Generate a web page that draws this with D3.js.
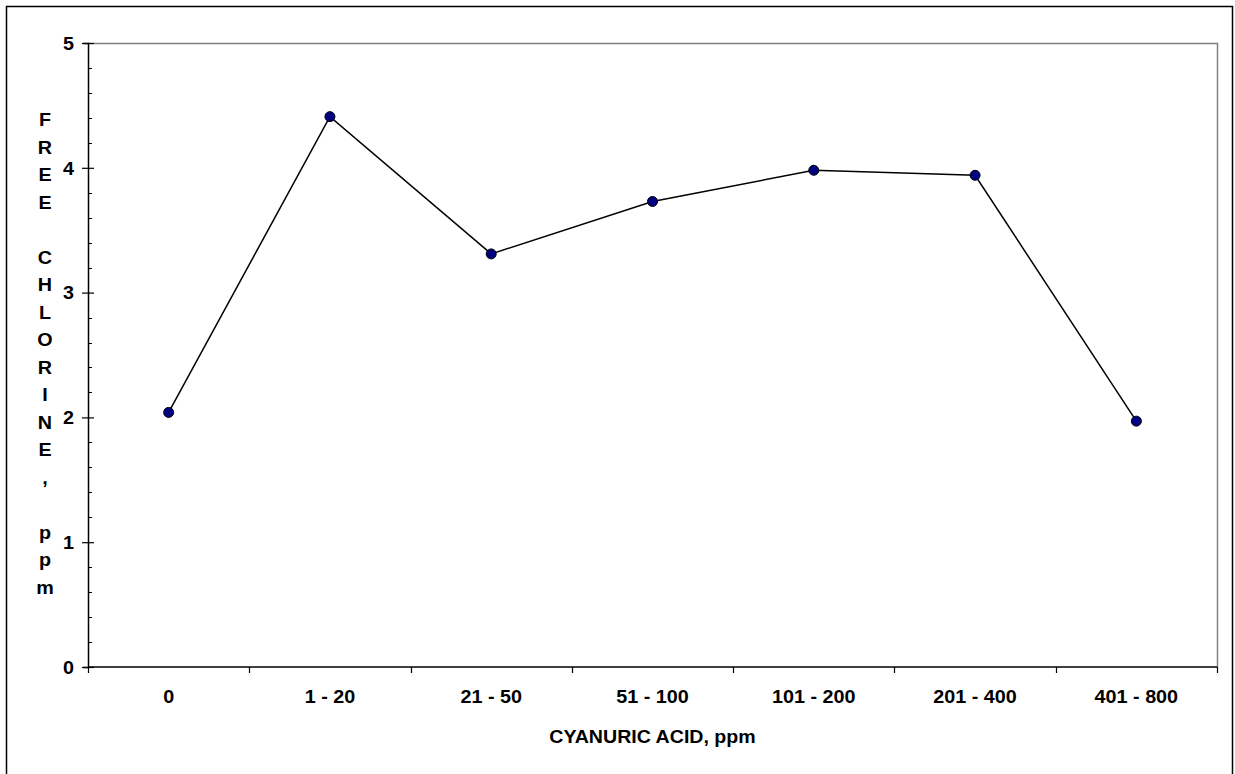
<!DOCTYPE html>
<html>
<head>
<meta charset="utf-8">
<script src="https://cdn.jsdelivr.net/npm/d3@7"></script>
<style>
  html, body { margin: 0; padding: 0; background: #fff; }
  svg { display: block; }
  text { font-family: "Liberation Sans", Arial, sans-serif; font-weight: bold; fill: #000; }
</style>
</head>
<body>
<svg id="chart" width="1235" height="774"></svg>
<script>
const categories = ["0", "1 - 20", "21 - 50", "51 - 100", "101 - 200", "201 - 400", "401 - 800"];
const freeChlorine = [2.04, 4.41, 3.31, 3.73, 3.98, 3.94, 1.97];
const yTicks = [0, 1, 2, 3, 4, 5];
const yLabel = "FREE CHLORINE, ppm";
const xLabel = "CYANURIC ACID, ppm";

const svg = d3.select("#chart");
const W = 1235, H = 774;
const plot = { left: 88, top: 43, right: 1217, bottom: 667 };
const FS = 17.5;   // font size
const SX = 1.13;   // horizontal stretch of the original rendering

function stretchedText(parent, px, py, str, anchor, fs = FS, sx = SX) {
  return parent.append("text")
    .attr("transform", `translate(${px},${py}) scale(${sx},1)`)
    .attr("text-anchor", anchor)
    .style("font-size", fs + "px")
    .text(str);
}

// outer frame (bottom runs off the picture)
svg.append("path")
  .attr("d", `M6.5,${H + 5} V6.5 H1232.5 V${H + 5}`)
  .attr("fill", "none").attr("stroke", "#000").attr("stroke-width", 1.5);

const x = d3.scaleBand().domain(categories).range([plot.left, plot.right]).padding(0);
const y = d3.scaleLinear().domain([0, 5]).range([plot.bottom, plot.top]);

// plot area border (top, right) in gray
svg.append("path")
  .attr("d", `M${plot.left},${plot.top + 0.5} H${plot.right + 0.5} V${plot.bottom}`)
  .attr("fill", "none").attr("stroke", "#808080").attr("stroke-width", 1.5);

// minor y ticks (inside)
const minor = d3.range(0, 5.001, 0.2).filter(v => Math.abs(v - Math.round(v)) > 1e-6);
svg.append("g").selectAll("line").data(minor).join("line")
  .attr("x1", plot.left).attr("x2", plot.left + 4)
  .attr("y1", d => Math.round(y(d)) + 0.5).attr("y2", d => Math.round(y(d)) + 0.5)
  .attr("stroke", "#000").attr("stroke-width", 1);

// y axis
const yAxis = d3.axisLeft(y).tickValues(yTicks).tickFormat(d3.format("d")).tickSize(5).tickPadding(9);
const gy = svg.append("g").attr("transform", `translate(${plot.left},0)`).call(yAxis);
gy.attr("font-size", null).attr("font-family", null);
gy.select(".domain").attr("stroke", "#000").attr("stroke-width", 1.5);
gy.selectAll(".tick line").attr("x2", 6).attr("x1", -6).attr("stroke-width", 1.2);
gy.selectAll(".tick text")
  .attr("x", -14 / SX).attr("dy", "0.36em")
  .attr("transform", `scale(${SX},1)`)
  .style("font-size", FS + "px");

// x axis with ticks between categories
const gx = svg.append("g").attr("transform", `translate(0,${plot.bottom})`);
gx.append("line").attr("x1", plot.left).attr("x2", plot.right)
  .attr("stroke", "#000").attr("stroke-width", 1.5);
const bounds = categories.map(c => x(c)).concat([x(categories[categories.length - 1]) + x.bandwidth()]);
gx.selectAll("line.tk").data(bounds).join("line").attr("class", "tk")
  .attr("x1", d => Math.round(d) + 0.5).attr("x2", d => Math.round(d) + 0.5)
  .attr("y1", 0).attr("y2", 6).attr("stroke", "#000").attr("stroke-width", 1.2);
categories.forEach(c => stretchedText(gx, x(c) + x.bandwidth() / 2, 35.5, c, "middle"));

// x title
stretchedText(svg, (plot.left + plot.right) / 2, 742.5, xLabel, "middle", 18.5, 1.06);

// y title: stacked letters
Array.from(yLabel).forEach((ch, i) => stretchedText(svg, 45, 120 + i * 27.5 + 6.3, ch, "middle"));

// line
const line = d3.line().x((d, i) => x(categories[i]) + x.bandwidth() / 2).y(d => y(d));
svg.append("path").datum(freeChlorine).attr("d", line)
  .attr("fill", "none").attr("stroke", "#000").attr("stroke-width", 1.5);

// markers
svg.append("g").selectAll("circle").data(freeChlorine).join("circle")
  .attr("cx", (d, i) => x(categories[i]) + x.bandwidth() / 2).attr("cy", d => y(d))
  .attr("r", 5).attr("fill", "#000080").attr("stroke", "#000").attr("stroke-width", 1);
</script>
</body>
</html>
